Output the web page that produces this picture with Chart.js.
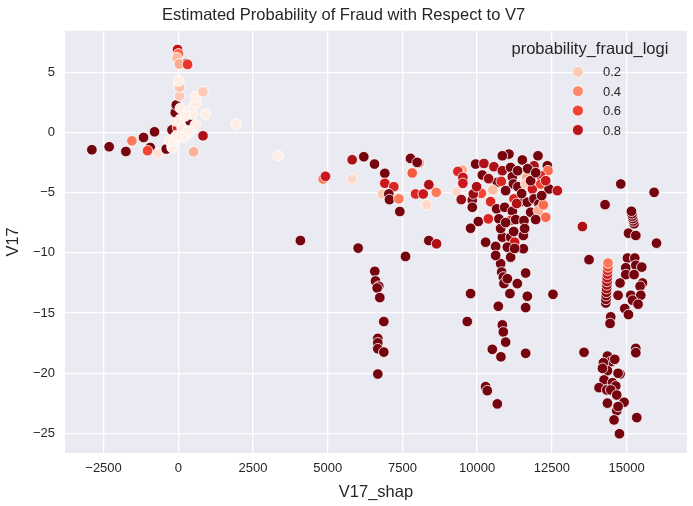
<!DOCTYPE html>
<html lang="en">
<head>
    <meta charset="UTF-8">
    <title>Estimated Probability of Fraud with Respect to V7</title>
    <script src="https://cdn.jsdelivr.net/npm/chart.js"></script>
    <style>
        body { margin: 0; background: #fff; }
        #wrap { width: 693px; height: 506px; }
    </style>
</head>
<body>
    <div id="wrap"><canvas id="fraudChart" width="693" height="506"></canvas></div>

    <script>
        // V17_shap values, grouped by the clusters seen in the plot
        const xVals = [
            // around zero
            -2891, -2312, -1752, -1551, -1162, -794, -938, -1028, -693, -402, -211, -291, -211, -23, -100, -100, -67, 67, 402, 570,
            312, 124, 459, 492, 603, 570, 827, 905, 67, 44, 44, 10, 827, 513, 1943, 3340, -23, 10, -44, 268, 34, 312,
            178, -157, 345, 235, -67,
            // 4000 - 9500
            4847, 4925, 5819, 5819, 6208, 6566, 6911, 6911, 7213, 6824, 7045, 7069, 7380, 7414, 7772, 8074, 7996, 7829, 8385, 7940,
            8197, 8308, 8633, 9313, 9504, 9357, 9524, 9524, 9470, 6020, 7605, 8385, 8643, 4087,
            // column near 6700
            6576, 6600, 6710, 6656, 6744, 6878, 6677, 6677, 6677, 6878, 6677,
            // lower part of 10000 - 12500
            9782, 9671, 10710, 11625, 11681, 12539, 10844, 10877, 10955, 10509, 10797, 11625, 10285, 10341, 10676, 10787, 10821, 10877, 10898, 11099,
            11346, 11625, 11011,
            // dense cluster 10000 - 12500
            11065, 10844, 11514, 12037, 12351, 12372, 9950, 10228, 10563, 10844, 11122, 11903, 10174, 11179, 11658, 12127, 10676, 10810, 11212, 11366,
            11625, 11849, 12127, 12405, 12686, 9839, 9839, 10140, 9872, 10529, 10452, 10653, 10921, 11179, 11457, 11233, 11681, 11903, 12070, 11792,
            12050, 12217, 12295, 10730, 11122, 11290, 11568, 11960, 10040, 10375, 9782, 10285, 10620, 10844, 11122, 11256, 11547, 11547, 11011, 10620,
            11122, 10955, 11357, 11692, 10385, 11491, 11792, 12161, 10787, 10955, 11591, 11323, 11960, 9983, 12295, 11223, 11256,
            // right cluster 13500 - 16000
            14807, 15923, 14281, 13524, 15253, 15230, 15210, 15195, 15180, 15165, 15065, 15310, 16003, 13745,
            14305, 14312, 14320, 14325, 14333, 14341, 14346, 14355, 14361, 14367, 14376, 14381,
            15031, 15276, 14975, 15310, 15511, 14975, 15253, 14784, 15534, 15454, 15142, 15477, 14717, 15199, 14941, 15065, 15387, 14472, 14449, 13578,
            15310, 15310, 14361, 14472, 14606, 14227, 14361, 14194, 14784, 14717, 14248, 14529, 14080, 14338, 14640, 14472, 14673, 14361, 14918, 14673,
            14717, 15343, 14583, 14763
        ];

        // V17 values
        const yVals = [
            -1.43, -1.18, -1.57, -0.69, -0.41, 0.06, -1.24, -1.51, -1.74, -1.37, -1.24, -0.69, 0.22, 0.41, 0.97, 1.66, 2.29, 1.11, 0.83, 0.64,
            -0.13, 0.41, 1.52, 2.13, 2.48, 2.96, 3.39, 1.52, 2.02, 3.04, 3.78, 4.28, -0.27, -1.6, 0.70, -1.93, 6.9, 6.54, 6.21, 5.74, 5.69, 5.66,
            -0.41, -0.69, 0.14, 1.38, -0.27,
            -3.86, -3.64, -3.86, -2.26, -2.01, -2.62, -3.39, -4.22, -4.5, -5.1, -5.1, -5.57, -5.51, -6.56, -2.15, -2.53, -2.48, -3.36, -4.33, -5.1,
            -5.1, -5.99, -4.97, -4.91, -3.11, -3.23, -3.73, -4.22, -5.57, -9.6, -10.29, -8.97, -9.24, -8.97,
            -11.53, -12.33, -12.77, -12.91, -13.71, -15.7, -17.1, -17.47, -17.96, -18.24, -20.06,
            -13.38, -15.7, -14.43, -14.54, -13.6, -13.44, -15.98, -16.56, -17.41, -18.01, -18.63, -18.34, -21.11, -21.44, -22.54, -10.89, -11.59, -12.0, -12.55, -13.38,
            -12.55, -11.67, -12.14,
            -1.79, -1.93, -2.28, -1.93, -2.76, -3.17, -2.62, -2.57, -2.84, -3.17, -2.90, -2.76, -3.53, -3.67, -3.73, -3.58, -4.14, -4.06, -4.27, -4.5,
            -4.27, -4.69, -4.27, -4.69, -4.83, -5.6, -6.21, -5.05, -5.1, -4.77, -5.74, -6.34, -6.21, -6.54, -5.74, -5.51, -5.79, -5.51, -5.93, -6.62,
            -6.48, -6.01, -7.04, -7.17, -7.31, -7.23, -7.31, -7.23, -7.39, -7.17, -7.95, -9.11, -9.46, -8.69, -8.69, -9.11, -8.55, -9.65, -9.52, -10.21,
            -10.35, -4.83, -3.17, -3.0, -3.83, -5.07, -4.0, -5.24, -7.97, -7.48, -7.97, -5.9, -3.34, -4.5, -4.0, -8.22, -9.63,
            -4.27, -4.97, -5.99, -7.81, -7.58, -7.35, -7.15, -6.95, -6.75, -6.54, -8.36, -8.55, -9.19, -10.56,
            -14.16, -13.86, -13.55, -13.27, -12.96, -12.66, -12.37, -12.06, -11.76, -11.45, -11.16, -10.84,
            -10.43, -10.43, -11.23, -11.03, -11.18, -11.8, -11.8, -12.5, -12.5, -12.77, -13.52, -13.52, -13.52, -13.93, -14.62, -15.12, -14.26, -15.31, -15.86, -18.26,
            -17.93, -18.29, -18.57, -19.04, -18.84, -19.12, -19.78, -19.59, -20.06, -20.0, -20.55, -20.78, -21.19, -21.38, -21.05, -21.38, -21.8, -22.48, -22.4, -23.1,
            -22.76, -23.68, -23.87, -25.02
        ];

        // probability_fraud_logi (hue)
        const probVals = [
            .98, .97, .97, .45, .96, .97, .97, .6, .12, .98, .05, .05, .95, .7, .05, .97, .97, .05, .97, .04,
            .04, .04, .04, .04, .05, .04, .2, .04, .04, .2, .22, .04, .85, .28, .04, .04, .8, .5, .25, .85, .3, .65,
            .03, .03, .03, .03, .03,
            .45, .75, .15, .85, .97, .97, .97, .75, .7, .2, .97, .97, .45, .97, .97, .3, .97, .55, .85, .7,
            .75, .15, .45, .15, .3, .7, .8, .75, .9, .97, .97, .97, .85, .97,
            .97, .97, .97, .97, .97, .97, .97, .97, .97, .97, .97,
            .97, .97, .97, .97, .97, .97, .97, .97, .97, .97, .97, .97, .97, .97, .97, .97, .97, .97, .97, .97,
            .97, .97, .97,
            .97, .97, .97, .97, .97, .5, .97, .85, .85, .9, .97, .85, .97, .97, .3, .7, .97, .7, .97, .97,
            .2, .75, .6, .97, .8, .97, .97, .6, .9, .25, .7, .97, .97, .97, .97, .7, .97, .97, .97, .97,
            .3, .5, .5, .97, .65, .97, .97, .97, .97, .7, .97, .97, .97, .97, .97, .75, .97, .97, .97, .97,
            .97, .97, .97, .97, .9, .97, .97, .97, .97, .97, .97, .85, .97, .85, .75, .97, .97,
            .97, .97, .97, .85, .97, .97, .97, .97, .97, .97, .97, .97, .97, .97,
            .98, .97, .95, .93, .9, .88, .85, .8, .75, .7, .6, .45,
            .97, .97, .97, .97, .97, .97, .97, .97, .97, .97, .97, .97, .97, .97, .97, .97, .97, .97, .97, .97,
            .97, .97, .97, .97, .97, .97, .97, .97, .97, .97, .97, .97, .97, .97, .97, .97, .97, .97, .97, .97,
            .97, .97, .97, .97
        ];

        const xTicks = [-2500, 0, 2500, 5000, 7500, 10000, 12500, 15000];
        const yTicks = [-25, -20, -15, -10, -5, 0, 5];
        const legendLevels = [0.2, 0.4, 0.6, 0.8];

        // matplotlib "Reds" colormap
        const redsStops = ['#fff5f0', '#fee0d2', '#fcbba1', '#fc9272', '#fb6a4a', '#ef3b2c', '#cb181d', '#a50f15', '#67000d'];
        function hexToRgb(h) {
            return [parseInt(h.slice(1, 3), 16), parseInt(h.slice(3, 5), 16), parseInt(h.slice(5, 7), 16)];
        }
        function redsColor(t) {
            t = Math.max(0, Math.min(1, t));
            const pos = t * (redsStops.length - 1);
            const i = Math.min(Math.floor(pos), redsStops.length - 2);
            const f = pos - i;
            const a = hexToRgb(redsStops[i]), b = hexToRgb(redsStops[i + 1]);
            const c = a.map((v, k) => Math.round(v + (b[k] - v) * f));
            return `rgb(${c[0]}, ${c[1]}, ${c[2]})`;
        }

        const points = xVals.map((x, i) => ({ x: x, y: yVals[i] }));
        const pointColors = probVals.map(p => redsColor(p));

        const FONT = '"Liberation Sans", Arial, sans-serif';
        const TEXT = '#262626';
        const minus = v => String(v).replace('-', '\u2212');

        const bgPlugin = {
            id: 'plotBg',
            beforeDraw(chart) {
                const { ctx, chartArea: a } = chart;
                ctx.save();
                ctx.fillStyle = '#eaeaf2';
                ctx.fillRect(a.left, a.top, a.right - a.left, a.bottom - a.top);
                ctx.restore();
            }
        };

        const legendPlugin = {
            id: 'hueLegend',
            afterDatasetsDraw(chart) {
                const { ctx, chartArea: a } = chart;
                ctx.save();
                ctx.fillStyle = TEXT;
                ctx.textBaseline = 'middle';
                ctx.textAlign = 'center';
                ctx.font = `16.5px ${FONT}`;
                ctx.fillText('probability_fraud_logi', a.right - 97, a.top + 19);
                ctx.font = `13px ${FONT}`;
                ctx.textAlign = 'left';
                legendLevels.forEach((lv, i) => {
                    const y = a.top + 41 + i * 19.4;
                    ctx.beginPath();
                    ctx.arc(a.right - 109, y, 5.5, 0, Math.PI * 2);
                    ctx.fillStyle = redsColor(lv);
                    ctx.fill();
                    ctx.lineWidth = 0.8;
                    ctx.strokeStyle = '#ffffff';
                    ctx.stroke();
                    ctx.fillStyle = TEXT;
                    ctx.fillText(lv.toFixed(1), a.right - 84, y + 1);
                });
                ctx.restore();
            }
        };

        new Chart(document.getElementById('fraudChart'), {
            type: 'scatter',
            data: {
                datasets: [{
                    label: 'probability_fraud_logi',
                    data: points,
                    backgroundColor: pointColors,
                    borderColor: '#ffffff',
                    borderWidth: 0.8,
                    pointRadius: 5.3,
                    pointHoverRadius: 5.3
                }]
            },
            options: {
                responsive: false,
                animation: false,
                layout: { padding: { left: 0, right: 6, top: 0, bottom: 0 } },
                plugins: {
                    legend: { display: false },
                    tooltip: { enabled: false },
                    title: {
                        display: true,
                        text: 'Estimated Probability of Fraud with Respect to V7',
                        color: TEXT,
                        font: { family: FONT, size: 16.5, weight: 'normal' },
                        padding: { top: 6, bottom: 5 }
                    }
                },
                scales: {
                    x: {
                        type: 'linear',
                        min: -3790,
                        max: 17020,
                        afterBuildTicks: s => { s.ticks = xTicks.map(v => ({ value: v })); },
                        afterFit: s => { s.height = 53; },
                        grid: { color: '#ffffff', lineWidth: 1.3, drawTicks: false },
                        border: { display: false },
                        ticks: { color: TEXT, font: { family: FONT, size: 13 }, padding: 8, maxRotation: 0, callback: minus },
                        title: { display: true, text: 'V17_shap', color: TEXT, font: { family: FONT, size: 16.5 }, padding: { top: 0 } }
                    },
                    y: {
                        type: 'linear',
                        min: -26.62,
                        max: 8.45,
                        afterBuildTicks: s => { s.ticks = yTicks.map(v => ({ value: v })); },
                        afterFit: s => { s.width = 65; },
                        grid: { color: '#ffffff', lineWidth: 1.3, drawTicks: false },
                        border: { display: false },
                        ticks: { color: TEXT, font: { family: FONT, size: 13 }, padding: 10, callback: minus },
                        title: { display: true, text: 'V17', color: TEXT, font: { family: FONT, size: 16.5 }, padding: { bottom: 0 } }
                    }
                }
            },
            plugins: [bgPlugin, legendPlugin]
        });
    </script>
</body>
</html>
